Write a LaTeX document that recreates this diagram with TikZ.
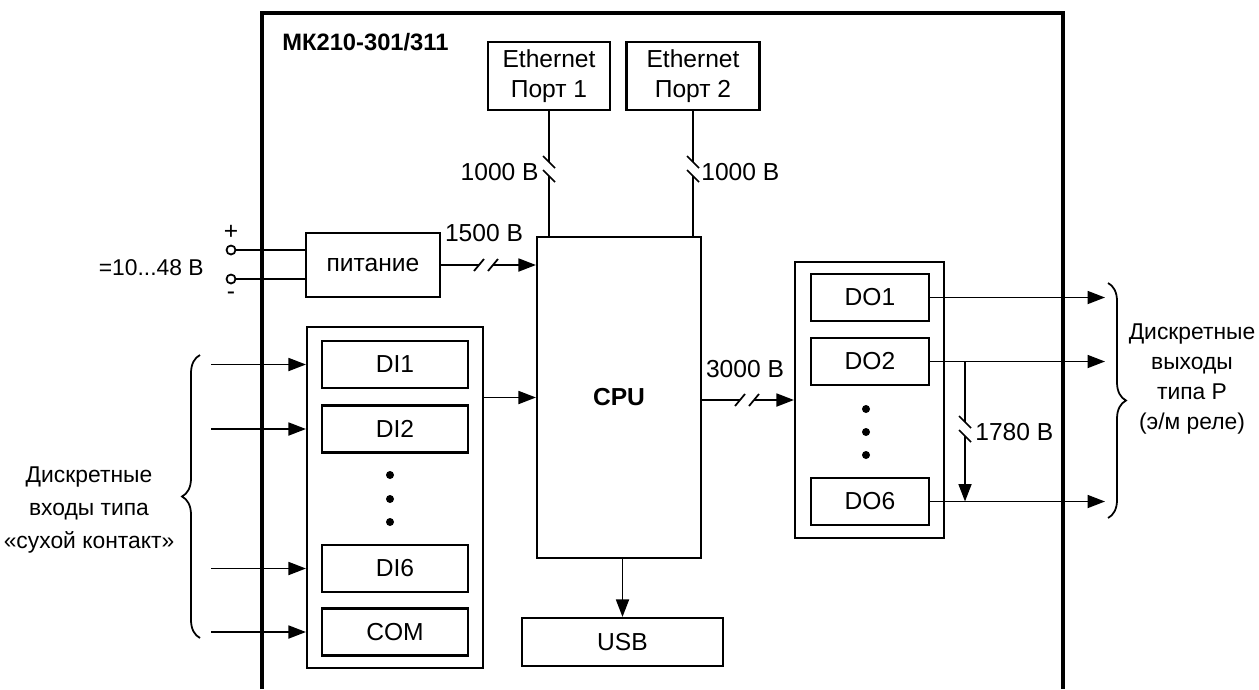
\documentclass[tikz,border=0pt]{standalone}
\usepackage{fontspec}
\setmainfont{Liberation Sans}
\usetikzlibrary{arrows.meta,decorations.pathreplacing}
\tikzset{
  blk/.style={rectangle, draw, line width=1.2pt, inner sep=0pt,
              font=\fontsize{14}{17}\selectfont},
  grp/.style={blk},
  dibox/.style={blk, minimum width=29.2mm, minimum height=9.4mm},
  dobox/.style={blk, minimum width=23.6mm, minimum height=9.4mm},
  conn/.style={line width=1pt},
  arr/.style={conn, -{Triangle[length=3.5mm,width=2.6mm]}},
  lbl/.style={inner sep=0pt, font=\fontsize{14}{17}\selectfont},
  term/.style={circle, draw, line width=1pt, minimum size=1.8mm, inner sep=0pt},
  mkframe/.style={line width=2.2pt},
  brc/.style={conn, decorate, decoration={brace, amplitude=3.6mm}},
  hbrk/.pic={\fill[white] (-7,-2) rectangle (7,2);
             \draw[conn] (-12,6) -- (-2,-6) (2,6) -- (12,-6);},
  vbrk/.pic={\fill[white] (-2,-7) rectangle (2,7);
             \draw[conn] (-6,-13) -- (6,-1) (-6,1) -- (6,13);},
}

\begin{document}
\begin{tikzpicture}[x=0.2mm, y=-0.2mm]
  \useasboundingbox (0,0) rectangle (1259,689);
  \draw[mkframe] (262,689) -- (262,13) -- (1063,13) -- (1063,689);
  \node[lbl, anchor=base west, font=\fontsize{13.5}{17}\selectfont\bfseries] (title) at (282,50) {МК210-301/311};
  % blocks
  \node[blk, minimum width=24.4mm, minimum height=13.6mm, align=center] (eth1) at (549,76) {Ethernet\\Порт 1};
  \node[blk, minimum width=26.6mm, minimum height=13.6mm, align=center] (eth2) at (693,76) {Ethernet\\Порт 2};
  \node[blk, minimum width=32.8mm, minimum height=64.2mm, font=\fontsize{14}{17}\selectfont\bfseries] (cpu) at (619,397.5) {CPU};
  \node[blk, minimum width=40.2mm, minimum height=9.6mm] (usb) at (622.5,642) {USB};
  \node[blk, minimum width=26.8mm, minimum height=12.8mm] (pwr) at (373,265) {питание};
  \node[grp, minimum width=35.2mm, minimum height=68.2mm] (digrp) at (395,497.5) {};
  \node[grp, minimum width=29.8mm, minimum height=55.2mm] (dogrp) at (869.5,400) {};
  % supply
  \node[term] (tp) at (231,250) {};
  \node[term] (tm) at (231,279) {};
  \node[lbl] (plus) at (231,232) {+};
  \node[lbl] (minus) at (231,296) {-};
  \node[lbl, anchor=east, font=\fontsize{13}{17}\selectfont] (vin) at (204,268) {=10...48 В};
  \draw[conn] (tp) -- (tp -| pwr.west);
  \draw[conn] (tm) -- (tm -| pwr.west);
  \draw[arr] (pwr.east) -- (pwr.east -| cpu.west);
  \pic at (486,265) {hbrk};
  \node[lbl] (v1500) at (484,233) {1500 В};
  % ethernet
  \draw[conn] (eth1.south) -- (eth1.south |- cpu.north);
  \draw[conn] (eth2.south) -- (eth2.south |- cpu.north);
  \pic at (549,169) {vbrk};
  \pic at (693,169) {vbrk};
  \node[lbl, anchor=east] (v1000a) at (539,172) {1000 В};
  \node[lbl, anchor=west] (v1000b) at (701,172) {1000 В};
  % inputs
  \foreach \i/\t/\y in {1/DI1/364.5, 2/DI2/429, 6/DI6/568.5, c/COM/632}{
    \node[dibox] (di\i) at (395,\y) {\t};
    \coordinate (in\i) at (211,\y);
    \draw[arr] (in\i) -- (in\i -| digrp.west);
  }
  \foreach \y in {475,499,522} \fill (390,\y) circle (0.8mm);
  \draw[arr] (digrp.east |- cpu) -- (cpu.west);
  \draw[arr] (cpu.south -| usb.north) -- (usb.north);
  % outputs
  \draw[arr] (cpu.east |- dogrp) -- (dogrp.west);
  \pic at (747,400) {hbrk};
  \node[lbl] (v3000) at (745,369) {3000 В};
  \coordinate (out) at (1105,0);
  \foreach \i/\y in {1/297.5, 2/361.5, 6/501.5}{
    \node[dobox] (do\i) at (870,\y) {DO\i};
    \draw[arr] (do\i.east) -- (do\i.east -| out);
  }
  \foreach \y in {409,432,455} \fill (866,\y) circle (0.8mm);
  \coordinate (br) at (965,0);
  \draw[arr] (do2.east -| br) -- (do6.east -| br);
  \pic at (965,429) {vbrk};
  \node[lbl, anchor=west] (v1780) at (975,432) {1780 В};
  % braces and captions
  \coordinate (bl1) at (200,638);
  \coordinate (bl2) at (200,355);
  \draw[brc] (bl1) -- (bl2);
  \coordinate (br1) at (1108,283);
  \coordinate (br2) at (1108,518);
  \draw[brc] (br1) -- (br2);
  \node[lbl, align=center, font=\fontsize{13}{19}\selectfont] (ditxt) at (89,510) {Дискретные\\входы типа\\«сухой контакт»};
  \node[lbl, align=center, font=\fontsize{13}{17}\selectfont] (dotxt) at (1192,379) {Дискретные\\выходы\\типа Р\\(э/м реле)};
\end{tikzpicture}
\end{document}
